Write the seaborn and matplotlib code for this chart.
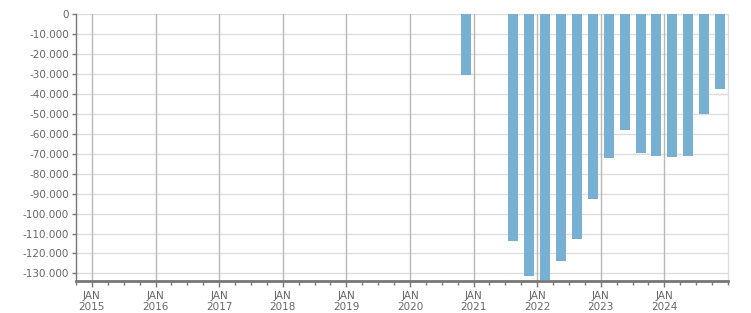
import matplotlib
matplotlib.use("Agg")
import matplotlib.pyplot as plt
import matplotlib.ticker as mticker
import seaborn as sns
import pandas as pd
import numpy as np

# Quarterly values (quarter mid-points as decimal years)
quarters = ["2020Q4", "2021Q3", "2021Q4", "2022Q1", "2022Q2", "2022Q3", "2022Q4",
            "2023Q1", "2023Q2", "2023Q3", "2023Q4", "2024Q1", "2024Q2", "2024Q3", "2024Q4"]
values = [-30600, -113800, -131500, -133500, -123800, -112900, -92900,
          -72100, -58200, -69600, -71100, -71600, -71100, -50000, -37600]
year_labels = [str(y) for y in range(2015, 2025)]

def q_mid(q):
    y, n = int(q[:4]), int(q[-1])
    return y + (n - 1) * 0.25 + 0.125

df = pd.DataFrame({"x": [q_mid(q) for q in quarters], "value": values})

sns.set_theme(style="white")
plt.rcParams["font.family"] = ["DejaVu Sans"]

fig = plt.figure(figsize=(7.51, 3.13), dpi=100)
ax = fig.add_axes([76 / 751, 1 - 281 / 313, (728 - 76) / 751, (281 - 14) / 313])

sns.barplot(data=df, x="x", y="value", native_scale=True, color="#78b0d3",
            saturation=1, width=0.625, ax=ax, zorder=3, edgecolor="none")

ax.set_xlim(2014.75, 2025.0)
ax.set_ylim(-133800, 0)

years = [float(y) for y in year_labels]
ax.xaxis.set_major_locator(mticker.FixedLocator(years))
ax.set_xticklabels(["JAN\n" + y for y in year_labels], linespacing=1.2)
ax.xaxis.set_minor_locator(mticker.MultipleLocator(0.25))

ax.yaxis.set_major_locator(mticker.MultipleLocator(10000))
ax.yaxis.set_major_formatter(mticker.FuncFormatter(
    lambda v, p: "0" if v == 0 else f"{int(round(v)):,}".replace(",", ".")))

for yv in np.arange(-130000, 1, 10000):
    ax.axhline(yv, color="#dddddd", lw=1, zorder=1)
for xv in years:
    ax.axvline(xv, color="#b8b8b8", lw=1, zorder=1)

ax.set_xlabel("")
ax.set_ylabel("")
ax.tick_params(axis="both", which="both", direction="out", color="#777777",
               labelcolor="#666666", labelsize=7.5)
ax.tick_params(axis="x", which="major", length=4, width=1, pad=3)
ax.tick_params(axis="x", which="minor", length=3, width=1)
ax.tick_params(axis="y", which="major", length=3, width=1, pad=2)
ax.xaxis.set_ticks_position("bottom")
ax.yaxis.set_ticks_position("left")

ax.spines["top"].set_visible(False)
ax.spines["right"].set_color("#dddddd")
ax.spines["right"].set_linewidth(1)
ax.spines["left"].set_color("#777777")
ax.spines["left"].set_linewidth(1)
ax.spines["bottom"].set_color("#777777")
ax.spines["bottom"].set_linewidth(2)

fig.savefig("out.png", dpi=100)
